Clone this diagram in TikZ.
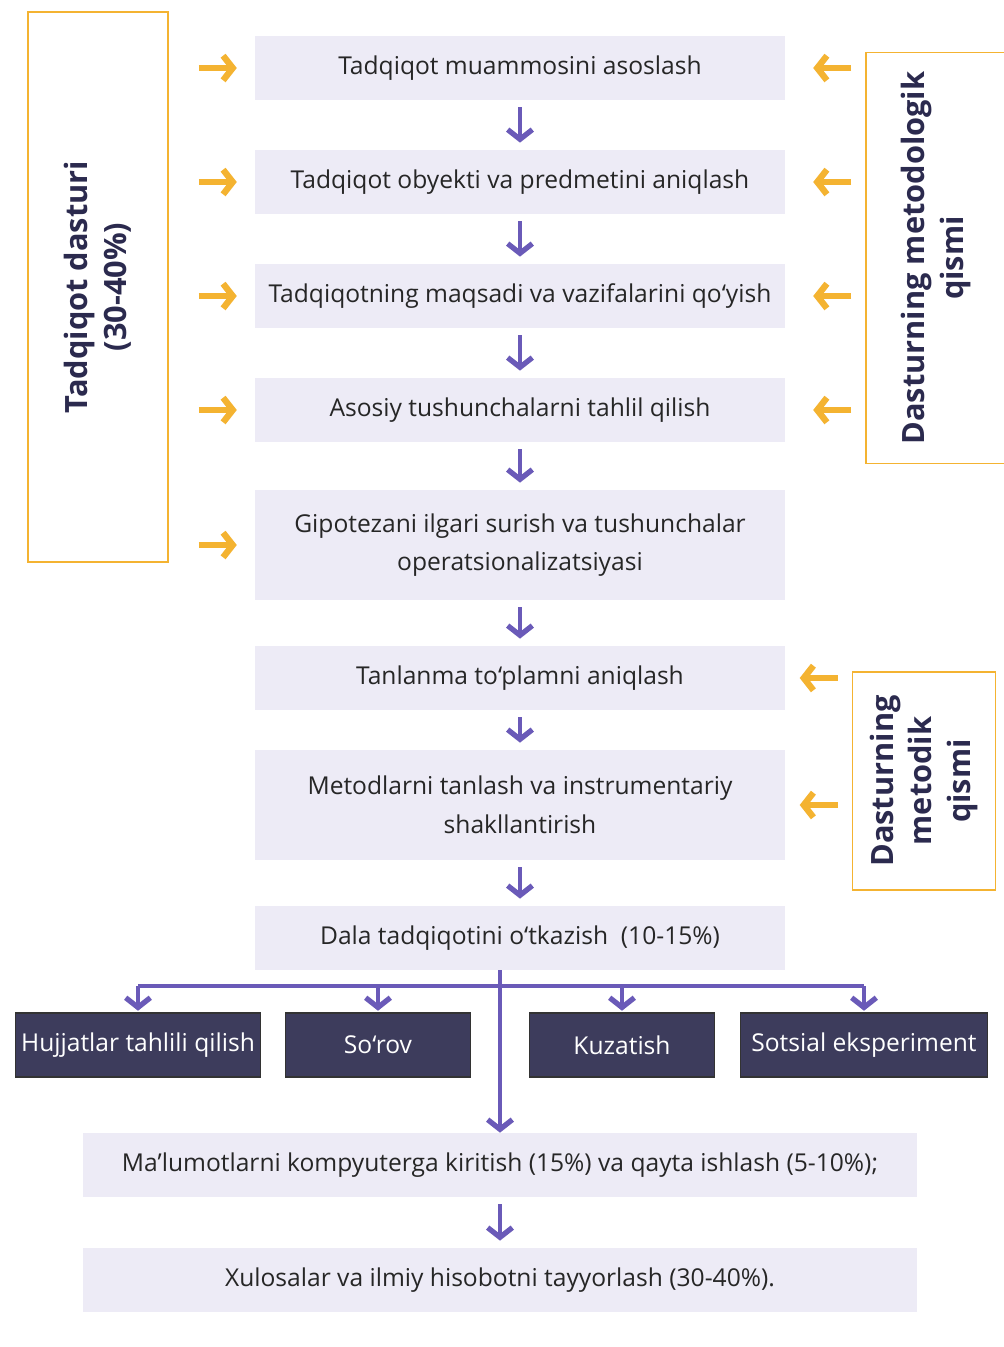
\documentclass[tikz,border=0pt]{standalone}
\usepackage{fontspec}
\setmainfont{Open Sans}
\usetikzlibrary{arrows.meta,calc,positioning}
\definecolor{yell}{HTML}{F4B331}
\definecolor{purp}{HTML}{6A5AB8}
\definecolor{navy}{HTML}{2B2A4E}
\definecolor{band}{HTML}{EDEBF6}
\definecolor{slate}{HTML}{3D3C5C}

\begin{document}
\begin{tikzpicture}[x=0.02cm,y=-0.02cm,
		stepbox/.style={fill=band, minimum width=10.6cm, minimum height=1.28cm, align=center, inner sep=0pt, text=black!85, font=\fontsize{14}{22}\selectfont},
		darkbox/.style={fill=slate, draw=black!80, line width=0.6pt, minimum height=1.28cm, inner sep=0pt, text=white, font=\fontsize{14}{16}\selectfont},
		sidebox/.style={draw=yell, line width=0.9pt, rotate=90, align=center, inner sep=0pt, text=navy, font=\fontsize{17.5}{22}\selectfont\bfseries},
		yarr/.style={draw=yell, line width=3.6pt, -{Straight Barb[length=5.5pt, width=14pt, line width=3.6pt]}},
		parr/.style={draw=purp, line width=2.8pt, -{Straight Barb[length=5.5pt, width=14pt, line width=3pt]}, shorten <=4pt, shorten >=4pt},
		pline/.style={draw=purp, line width=1.8pt}]
			%%%%% START %%%%%
			
			\fill[white] (0,0) rectangle (1004,1347);
			\useasboundingbox (0,0) rectangle (1004,1347);
			
			% steps
			\node[stepbox] (s1) at (520,68) {Tadqiqot muammosini asoslash};
			\node[stepbox] (s2) at (520,182) {Tadqiqot obyekti va predmetini aniqlash};
			\node[stepbox] (s3) at (520,296) {Tadqiqotning maqsadi va vazifalarini qo‘yish};
			\node[stepbox] (s4) at (520,410) {Asosiy tushunchalarni tahlil qilish};
			\node[stepbox, minimum height=2.2cm] (s5) at (520,545) {Gipotezani ilgari surish va tushunchalar\\operatsionalizatsiyasi};
			\node[stepbox] (s6) at (520,678) {Tanlanma to‘plamni aniqlash};
			\node[stepbox, minimum height=2.2cm] (s7) at (520,805) {Metodlarni tanlash va instrumentariy\\shakllantirish};
			\node[stepbox] (s8) at (520,938) {Dala tadqiqotini o‘tkazish\ \ (10-15\%)};
			\node[stepbox, minimum width=16.7cm] (s9) at (500,1165) {Ma’lumotlarni kompyuterga kiritish (15\%) va qayta ishlash (5-10\%);};
			\node[stepbox, minimum width=16.7cm] (s10) at (500,1280) {Xulosalar va ilmiy hisobotni tayyorlash (30-40\%).};
			
			\foreach \i/\j in {1/2,2/3,3/4,4/5,5/6,6/7,7/8,9/10}
				\draw[parr] (s\i.south) -- (s\j.north);
			
			% methods
			\node[darkbox, minimum width=4.9cm] (m1) at (138,1045) {Hujjatlar tahlili qilish};
			\node[darkbox, minimum width=3.7cm] (m2) at (378,1045) {So‘rov};
			\node[darkbox, minimum width=3.7cm] (m3) at (622,1045) {Kuzatish};
			\node[darkbox, minimum width=4.95cm] (m4) at (864,1045) {Sotsial eksperiment};
			
			\coordinate (bl) at (138,986);
			\coordinate (br) at (864,986);
			\draw[pline] (bl) -- (br);
			\foreach \m in {m1,m2,m3,m4}
				\draw[parr, shorten <=0pt, shorten >=1pt] (\m.north |- bl) -- (\m.north);
			\draw[parr, shorten <=0pt, shorten >=0pt, line width=2pt] (s8.south -| s9.north) -- (s9.north);
			
			% side boxes
			\node[sidebox, minimum width=11cm, minimum height=2.8cm] (prog) at (98,287) {Tadqiqot dasturi\\(30-40\%)};
			\node[sidebox, minimum width=8.22cm, minimum height=2.8cm] (metg) at (936,258) {Dasturning metodologik\\qismi};
			\node[sidebox, minimum width=4.36cm, minimum height=2.86cm] (metk) at (924,781) {Dasturning\\metodik\\qismi};
			
			\foreach \i in {1,...,5}
				\draw[yarr] ($(prog.south |- s\i)+(30,0)$) -- ++(38,0);
			\foreach \i in {1,...,4}
				\draw[yarr] ($(metg.north |- s\i)+(-14,0)$) -- ++(-38,0);
			\foreach \i in {6,7}
				\draw[yarr] ($(metk.north |- s\i)+(-14,0)$) -- ++(-38,0);
			
			%%%%% END %%%%%
		\end{tikzpicture}
\end{document}
